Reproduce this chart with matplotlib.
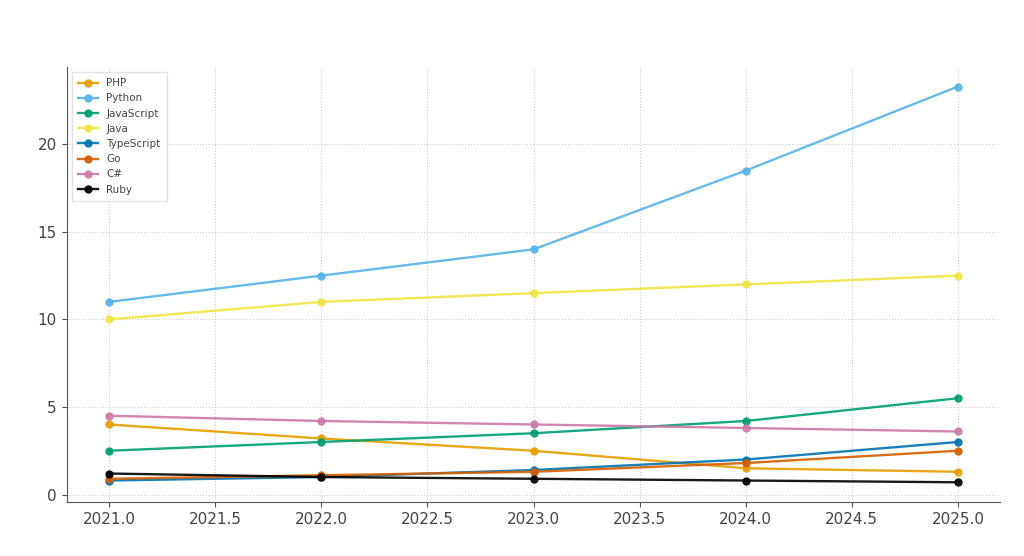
import matplotlib.pyplot as plt

years = [2021, 2022, 2023, 2024, 2025]
languages = ["PHP", "Python", "JavaScript", "Java", "TypeScript", "Go", "C#", "Ruby"]
php = [4.0, 3.2, 2.5, 1.5, 1.3]
python = [11.0, 12.5, 14.0, 18.5, 23.3]
javascript = [2.5, 3.0, 3.5, 4.2, 5.5]
java = [10.0, 11.0, 11.5, 12.0, 12.5]
typescript = [0.8, 1.0, 1.4, 2.0, 3.0]
go = [0.9, 1.1, 1.3, 1.8, 2.5]
csharp = [4.5, 4.2, 4.0, 3.8, 3.6]
ruby = [1.2, 1.0, 0.9, 0.8, 0.7]
series = [php, python, javascript, java, typescript, go, csharp, ruby]
colors = ["#E69F00", "#56B4E9", "#009E73", "#F0E442", "#0072B2", "#D55E00", "#CC79A7", "#000000"]

fig = plt.figure(figsize=(10.24, 5.56), dpi=100)
ax = fig.add_axes([0.065, 0.097, 0.912, 0.783])

for name, vals, c in zip(languages, series, colors):
    ax.plot(years, vals, marker="o", markersize=5, linewidth=1.7, color=c,
            alpha=0.9, label=name)

ax.grid(True, linestyle=":", color="#cccccc", linewidth=0.8)
ax.set_yticks([0, 5, 10, 15, 20])
ax.spines["top"].set_visible(False)
ax.spines["right"].set_visible(False)
for s in ["left", "bottom"]:
    ax.spines[s].set_color("#555555")
ax.tick_params(colors="#555555", labelsize=11, labelcolor="#444444")

leg = ax.legend(loc="upper left", fontsize=7.5, frameon=True, fancybox=False,
                labelcolor="#444444", handlelength=1.9, borderpad=0.6)
leg.get_frame().set_edgecolor("#dddddd")

fig.savefig("out.png", dpi=100)
